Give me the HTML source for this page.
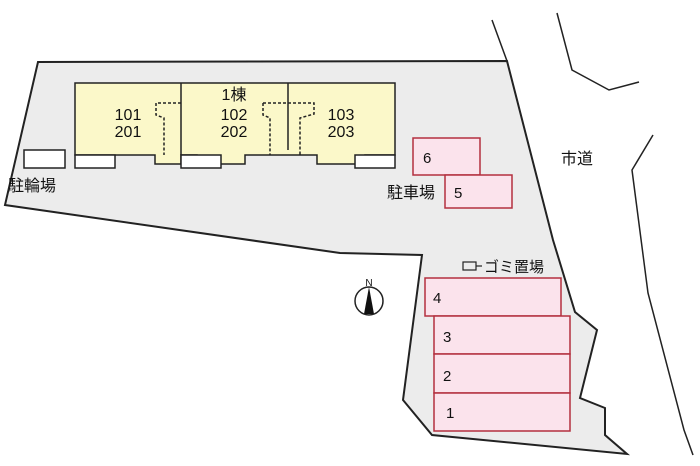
<!DOCTYPE html>
<html><head><meta charset="utf-8"><style>
body{margin:0;background:#fff;}
svg{display:block;font-family:"Liberation Sans","Noto Sans CJK JP",sans-serif;}
</style></head><body>
<svg width="700" height="466" viewBox="0 0 700 466" xmlns="http://www.w3.org/2000/svg">
<polygon points="38,62 507,61 553,240 575,312 597,330 580,398 605,408 605,435 627,454 432,435 403,400 422,255 340,253 5,205" fill="#ececec" stroke="#222" stroke-width="2"/>
<line x1="492" y1="20" x2="507" y2="61" stroke="#222" stroke-width="1.5"/>
<polyline points="557,13 572,70 609,90 639,82" fill="none" stroke="#222" stroke-width="1.5"/>
<polyline points="653,135 632,170 648,293 684,430 693,455" fill="none" stroke="#222" stroke-width="1.5"/>
<!-- building -->
<path d="M75,83 H395 V155 H365 V164 H317 V155 H245 V164 H197 V155 H181 V164 H155 V155 H75 Z" fill="#fbf8c9" stroke="#222" stroke-width="1.5"/>
<line x1="181" y1="83" x2="181" y2="155" stroke="#222" stroke-width="1.5"/>
<line x1="288" y1="83" x2="288" y2="150" stroke="#222" stroke-width="1.5"/>
<g fill="#fff" stroke="#222" stroke-width="1.5">
<rect x="75" y="155" width="40" height="13"/>
<rect x="181" y="155" width="40" height="13"/>
<rect x="355" y="155" width="40" height="13"/>
<rect x="24" y="150" width="41" height="18"/>
</g>
<g fill="none" stroke="#222" stroke-width="1.5" stroke-dasharray="3,2">
<polyline points="181,103 156,103 156,115 164,118 164,155"/>
<polyline points="263,103 263,115 270,118 270,155"/>
<polyline points="263,103 314,103 314,114 300,118 300,155"/>
</g>
<g font-size="16" fill="#111" text-anchor="middle">
<text x="128" y="120">101</text><text x="128" y="137">201</text>
<text x="234" y="100">1棟</text>
<text x="234" y="120">102</text><text x="234" y="137">202</text>
<text x="341" y="120">103</text><text x="341" y="137">203</text>
</g>
<text x="8" y="191" font-size="16" fill="#111">駐輪場</text>
<text x="387" y="198" font-size="16" fill="#111">駐車場</text>
<text x="561" y="164" font-size="16" fill="#111">市道</text>
<g fill="#fbe3ec" stroke="#b3303f" stroke-width="1.5">
<rect x="413" y="138" width="67" height="37"/>
<rect x="445" y="175" width="67" height="33"/>
<rect x="425" y="278" width="136" height="38"/>
<rect x="434" y="316" width="136" height="38"/>
<rect x="434" y="354" width="136" height="39"/>
<rect x="434" y="393" width="136" height="38"/>
</g>
<g font-size="15" fill="#111">
<text x="423" y="163">6</text><text x="454" y="198">5</text>
<text x="433" y="303">4</text><text x="443" y="342">3</text>
<text x="443" y="381">2</text><text x="446" y="418">1</text>
</g>
<rect x="463" y="262" width="13" height="8" fill="none" stroke="#222" stroke-width="1.2"/>
<line x1="476" y1="266" x2="482" y2="266" stroke="#222" stroke-width="1.2"/>
<text x="484" y="272" font-size="15" fill="#111">ゴミ置場</text>
<circle cx="369" cy="301" r="14" fill="#fff" stroke="#222" stroke-width="1.5"/>
<polygon points="369,287 374,314 364,314" fill="#111"/>
<text x="369" y="286" font-size="10" text-anchor="middle" fill="#111">N</text>
</svg>
</body></html>
